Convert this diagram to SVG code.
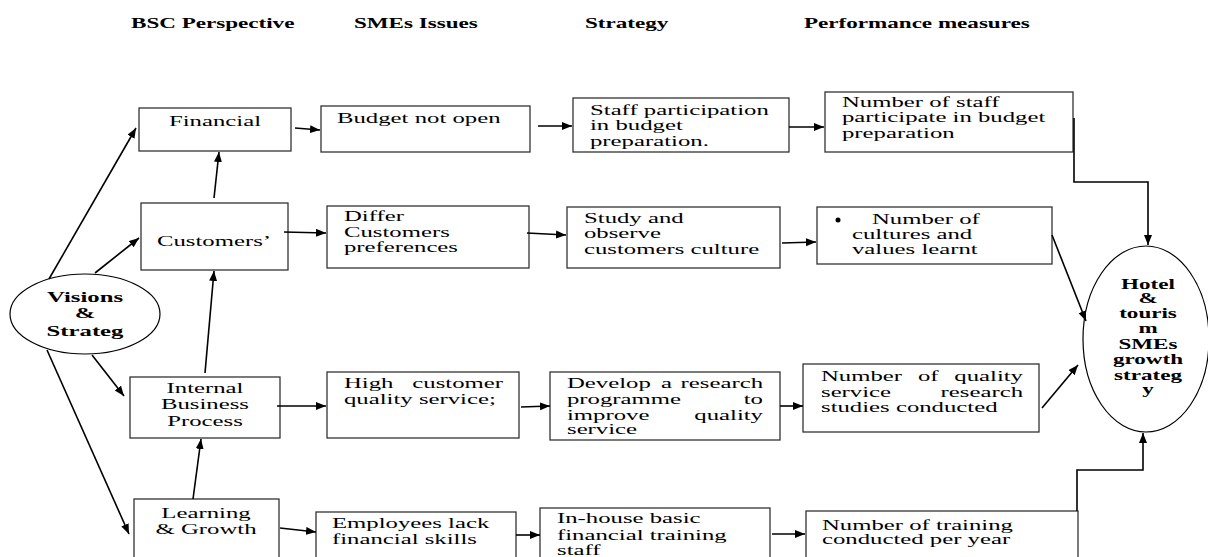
<svg xmlns="http://www.w3.org/2000/svg" width="1208" height="557" viewBox="0 0 1208 557">
<style>
text{font-family:"Liberation Serif","Times New Roman",serif;fill:#000}
.t{font-size:15px}
.h{font-size:14px;font-weight:bold}
.vb{font-size:15px;font-weight:bold}
.m{text-anchor:middle}
.e{text-anchor:end}
.box{fill:#fff;stroke:#333;stroke-width:1.3}
.con line,.con polyline{stroke:#000;stroke-width:1.6;fill:none;marker-end:url(#ah)}
.ell{fill:#fff;stroke:#000;stroke-width:1.2}
</style>
<defs>
<marker id="ah" markerUnits="userSpaceOnUse" markerWidth="11" markerHeight="9" refX="10" refY="4" orient="auto">
<path d="M0,0 L10,4 L0,8 z" fill="#000"/>
</marker>
</defs>
<rect width="1208" height="557" fill="#fff"/>

<g id="headers">
<text class="h" transform="translate(131,28) scale(1.65,1)">BSC Perspective</text>
<text class="h" transform="translate(354,28) scale(1.65,1)">SMEs Issues</text>
<text class="h" transform="translate(585,28) scale(1.65,1)">Strategy</text>
<text class="h" transform="translate(804,28) scale(1.65,1)">Performance measures</text>
</g>

<g id="visions">
<ellipse class="ell" cx="85" cy="314" rx="75" ry="40"/>
<text class="vb m" transform="translate(85,302) scale(1.65,1)">Visions</text>
<text class="vb m" transform="translate(85,318) scale(1.65,1)">&amp;</text>
<text class="vb m" transform="translate(85,336) scale(1.65,1)">Strateg</text>
</g>

<g id="hotel">
<ellipse class="ell" cx="1146" cy="339" rx="63" ry="93"/>
<text class="h m" transform="translate(1148,289) scale(1.65,1)">Hotel</text>
<text class="h m" transform="translate(1148,303) scale(1.65,1)">&amp;</text>
<text class="h m" transform="translate(1148,318) scale(1.65,1)">touris</text>
<text class="h m" transform="translate(1148,333) scale(1.65,1)">m</text>
<text class="h m" transform="translate(1148,349) scale(1.65,1)">SMEs</text>
<text class="h m" transform="translate(1148,364) scale(1.65,1)">growth</text>
<text class="h m" transform="translate(1148,380) scale(1.65,1)">strateg</text>
<text class="h m" transform="translate(1148,394) scale(1.65,1)">y</text>
</g>

<g id="financial">
<rect class="box" x="139" y="108" width="152" height="43"/>
<text class="t m" transform="translate(215,126) scale(1.65,1)">Financial</text>
</g>
<g id="customers">
<rect class="box" x="141" y="203" width="147" height="67"/>
<text class="t m" transform="translate(214,246) scale(1.65,1)">Customers’</text>
</g>
<g id="internal">
<rect class="box" x="130" y="377" width="150" height="61"/>
<text class="t m" transform="translate(205,393) scale(1.65,1)">Internal</text>
<text class="t m" transform="translate(205,409) scale(1.65,1)">Business</text>
<text class="t m" transform="translate(205,426) scale(1.65,1)">Process</text>
</g>
<g id="learning">
<rect class="box" x="134" y="499" width="145" height="75"/>
<text class="t m" transform="translate(206,518) scale(1.65,1)">Learning</text>
<text class="t m" transform="translate(206,534) scale(1.65,1)">&amp; Growth</text>
</g>

<g id="budget">
<rect class="box" x="321" y="106" width="209" height="46"/>
<text class="t" transform="translate(337,123) scale(1.65,1)">Budget not open</text>
</g>
<g id="differ">
<rect class="box" x="327" y="206" width="202" height="62"/>
<text class="t" transform="translate(344,221) scale(1.65,1)">Differ</text>
<text class="t" transform="translate(344,237) scale(1.65,1)">Customers</text>
<text class="t" transform="translate(344,252) scale(1.65,1)">preferences</text>
</g>
<g id="high">
<rect class="box" x="327" y="372" width="192" height="66"/>
<text class="t" transform="translate(344,388) scale(1.65,1)">High</text>
<text class="t e" transform="translate(503,388) scale(1.65,1)">customer</text>
<text class="t" transform="translate(344,404) scale(1.65,1)">quality service;</text>
</g>
<g id="employees">
<rect class="box" x="316" y="512" width="200" height="60"/>
<text class="t" transform="translate(332,528) scale(1.65,1)">Employees lack</text>
<text class="t" transform="translate(332,544) scale(1.65,1)">financial skills</text>
</g>

<g id="staff">
<rect class="box" x="573" y="98" width="216" height="54"/>
<text class="t" transform="translate(590,115) scale(1.65,1)">Staff participation</text>
<text class="t" transform="translate(590,130) scale(1.65,1)">in budget</text>
<text class="t" transform="translate(590,146) scale(1.65,1)">preparation.</text>
</g>
<g id="study">
<rect class="box" x="567" y="207" width="213" height="61"/>
<text class="t" transform="translate(584,223) scale(1.65,1)">Study and</text>
<text class="t" transform="translate(584,238) scale(1.65,1)">observe</text>
<text class="t" transform="translate(584,254) scale(1.65,1)">customers culture</text>
</g>
<g id="develop">
<rect class="box" x="550" y="372" width="230" height="68"/>
<text class="t" transform="translate(567,388) scale(1.65,1)">Develop</text>
<text class="t" transform="translate(661,388) scale(1.65,1)">a</text>
<text class="t e" transform="translate(763,388) scale(1.65,1)">research</text>
<text class="t" transform="translate(567,404) scale(1.65,1)">programme</text>
<text class="t e" transform="translate(763,404) scale(1.65,1)">to</text>
<text class="t" transform="translate(567,420) scale(1.65,1)">improve</text>
<text class="t e" transform="translate(763,420) scale(1.65,1)">quality</text>
<text class="t" transform="translate(567,434) scale(1.65,1)">service</text>
</g>
<g id="inhouse">
<rect class="box" x="540" y="508" width="230" height="65"/>
<text class="t" transform="translate(557,523) scale(1.65,1)">In-house basic</text>
<text class="t" transform="translate(557,540) scale(1.65,1)">financial training</text>
<text class="t" transform="translate(557,555) scale(1.65,1)">staff</text>
</g>

<g id="numstaff">
<rect class="box" x="825" y="92" width="248" height="60"/>
<text class="t" transform="translate(842,107) scale(1.65,1)">Number of staff</text>
<text class="t" transform="translate(842,122) scale(1.65,1)">participate in budget</text>
<text class="t" transform="translate(842,138) scale(1.65,1)">preparation</text>
</g>
<g id="numcult">
<rect class="box" x="817" y="207" width="235" height="57"/>
<circle cx="838" cy="220" r="2.5" fill="#000"/>
<text class="t" transform="translate(872,224) scale(1.65,1)">Number of</text>
<text class="t" transform="translate(852,239) scale(1.65,1)">cultures and</text>
<text class="t" transform="translate(852,254) scale(1.65,1)">values learnt</text>
</g>
<g id="numqual">
<rect class="box" x="803" y="364" width="236" height="68"/>
<text class="t" transform="translate(821,381) scale(1.65,1)">Number</text>
<text class="t" transform="translate(918,381) scale(1.65,1)">of</text>
<text class="t e" transform="translate(1023,381) scale(1.65,1)">quality</text>
<text class="t" transform="translate(821,397) scale(1.65,1)">service</text>
<text class="t e" transform="translate(1023,397) scale(1.65,1)">research</text>
<text class="t" transform="translate(821,412) scale(1.65,1)">studies conducted</text>
</g>
<g id="numtrain">
<rect class="box" x="806" y="511" width="272" height="62"/>
<text class="t" transform="translate(822,530) scale(1.65,1)">Number of training</text>
<text class="t" transform="translate(822,544) scale(1.65,1)">conducted per year</text>
</g>

<g id="connectors" class="con">
<line x1="214" y1="198" x2="219" y2="152"/>
<line x1="49" y1="279" x2="136" y2="128"/>
<line x1="95" y1="273" x2="139" y2="238"/>
<line x1="92" y1="355" x2="124" y2="396"/>
<line x1="205" y1="373" x2="214" y2="271"/>
<line x1="47" y1="350" x2="129" y2="534"/>
<line x1="193" y1="499" x2="201" y2="439"/>
<line x1="295" y1="128" x2="320" y2="130"/>
<line x1="284" y1="232" x2="326" y2="233"/>
<line x1="277" y1="406" x2="326" y2="406"/>
<line x1="280" y1="528" x2="316" y2="532"/>
<line x1="538" y1="126" x2="572" y2="126"/>
<line x1="527" y1="233" x2="566" y2="235"/>
<line x1="521" y1="407" x2="550" y2="406"/>
<line x1="516" y1="535" x2="540" y2="535"/>
<line x1="789" y1="127" x2="824" y2="127"/>
<line x1="782" y1="243" x2="816" y2="242"/>
<line x1="780" y1="406" x2="803" y2="406"/>
<line x1="772" y1="534" x2="805" y2="534"/>
<polyline points="1074,118 1074,182 1148,182 1148,245"/>
<line x1="1052" y1="235" x2="1086" y2="321"/>
<line x1="1042" y1="408" x2="1078" y2="365"/>
<polyline points="1077,511 1077,470 1143,470 1143,433"/>
</g>
</svg>
